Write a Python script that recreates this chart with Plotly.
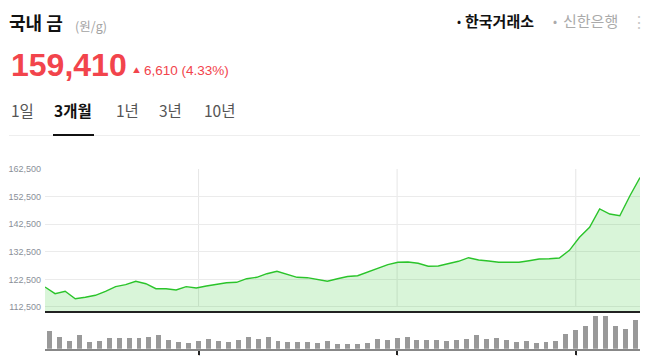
import plotly.graph_objects as go

# ---- data ----
price = [
    119750, 117320, 118190, 115510, 116010, 116740, 118190, 119860, 120580, 121810,
    120940, 119130, 119130, 118660, 119860, 119380, 120110, 120830, 121300, 121450,
    122750, 123260, 124560, 125430, 124350, 123260, 123120, 122390, 121810, 122750,
    123550, 123840, 125180, 126520, 127830, 128700, 128800, 128330, 127250, 127350,
    128190, 129060, 130360, 129530, 129170, 128700, 128700, 128700, 129270, 129890,
    130000, 130250, 133040, 137750, 141380, 148010, 146190, 145580, 152800, 159410,
]
volume = [
    53, 35, 22, 40, 19, 23, 31, 31, 32, 31,
    35, 41, 26, 20, 17, 23, 28, 22, 19, 26,
    35, 28, 34, 23, 20, 19, 19, 16, 23, 14,
    13, 14, 17, 28, 25, 31, 35, 26, 25, 25,
    23, 25, 29, 41, 29, 32, 25, 20, 22, 16,
    19, 23, 44, 56, 68, 98, 97, 67, 59, 85,
]
tick_index = [15, 35, 53]
tick_labels = ["12/02", "01/02", "02/03"]
price_ticks = [112500, 122500, 132500, 142500, 152500, 162500]
tabs = ["1일", "3개월", "1년", "3년", "10년"]
tab_x = [10, 53, 115, 158, 203]
active_tab = "3개월"
title = "국내 금"
unit = "(원/g)"
sources = ["한국거래소", "신한은행"]

W, H = 649, 356
def px(x):
    return x / W
def py(y):
    return 1 - y / H

idx = list(range(len(price)))
last = price[-1]
chg = price[-1] - price[-2]
pct = chg / price[-2] * 100

KR = "Noto Sans CJK KR"
RED = "#f2444c"

fig = go.Figure()
fig.add_trace(go.Scatter(
    x=idx, y=price, mode="lines", fill="tozeroy",
    line=dict(color="#2bc42b", width=1.4),
    fillcolor="rgba(45,200,45,0.18)", hoverinfo="skip",
))
fig.add_trace(go.Bar(
    x=idx, y=volume, xaxis="x2", yaxis="y2",
    marker=dict(color="#999999", line=dict(width=0)), width=0.5, hoverinfo="skip",
))

shapes = []
for t in tick_index:
    shapes.append(dict(type="line", xref="x2", yref="y", x0=t, x1=t,
                       y0=price_ticks[0], y1=price_ticks[-1],
                       line=dict(color="#e6e6e6", width=1), layer="below"))
# header separator and active-tab underline
shapes.append(dict(type="line", xref="paper", yref="paper", x0=px(9), x1=px(640),
                   y0=py(135.5), y1=py(135.5), line=dict(color="#eeeeee", width=1)))
shapes.append(dict(type="line", xref="paper", yref="paper", x0=px(53), x1=px(94),
                   y0=py(135), y1=py(135), line=dict(color="#111111", width=2)))

ann = []
def add(text, x, y, size, color, family=KR, xanchor="left"):
    ann.append(dict(text=text, x=px(x), y=py(y), xref="paper", yref="paper",
                    xanchor=xanchor, yanchor="middle", showarrow=False,
                    font=dict(size=size, color=color, family=family)))

add("<b>" + title + "</b>", 7, 22, 18, "#111111")
add(unit, 73, 25, 12.5, "#a3a3a3")
add("<b>{:,}</b>".format(last), 9, 65, 32, RED, family="Liberation Sans")
add("▲", 131, 70, 7, RED)
add("{:,} ({:.2f}%)".format(chg, pct), 142, 70.5, 13.5, RED, family="Liberation Sans")
for t, x in zip(tabs, tab_x):
    if t == active_tab:
        add("<b>" + t + "</b>", x - 1, 110, 15.5, "#111111")
    else:
        add(t, x - 1, 110, 15.5, "#555555")
add("•", 455, 21, 12, "#111111")
add("<b>" + sources[0] + "</b>", 463, 21, 15, "#111111")
add("•", 551, 21, 12, "#aaaaaa")
add(sources[1], 561, 21, 15, "#aaaaaa")
add("⋮", 639, 21, 16, "#c8c8c8", xanchor="center")

fig.update_layout(
    width=W, height=H, autosize=False,
    margin=dict(l=0, r=0, t=0, b=0, pad=0),
    paper_bgcolor="white", plot_bgcolor="white",
    showlegend=False, bargap=0,
    shapes=shapes, annotations=ann,
    xaxis=dict(domain=[px(45), px(640)], range=[0, len(price) - 1], anchor="y",
               showgrid=False, zeroline=False, showticklabels=False, ticks="",
               showline=True, linecolor="#222222", linewidth=1.5, fixedrange=True,
               automargin=False),
    yaxis=dict(domain=[py(311.3), py(169)], range=[110940, 162500], anchor="x",
               tickvals=price_ticks, tickformat=",d", ticks="",
               gridcolor="#ebebeb", gridwidth=1, zeroline=False, showline=False,
               tickfont=dict(size=9, color="#8a8f99", family="Liberation Sans"),
               ticklabelstandoff=3, fixedrange=True, automargin=False),
    xaxis2=dict(domain=[px(45), px(640)], range=[-0.47, len(price) - 0.53], anchor="y2",
                tickvals=tick_index, ticktext=tick_labels, ticks="outside", ticklen=4,
                tickwidth=1.5, tickcolor="#222222", showgrid=False, zeroline=False,
                showline=True, linecolor="#888888", linewidth=2,
                tickfont=dict(size=9, color="#999999", family="Liberation Sans"),
                ticklabelstandoff=-4,
                fixedrange=True, automargin=False),
    yaxis2=dict(domain=[py(348.7), py(313)], range=[0, max(volume) * 1.09], anchor="x2",
                visible=False, fixedrange=True, automargin=False),
)

fig.write_html(
    "out.html",
    config={"displayModeBar": False, "responsive": False},
    post_script="document.body.style.margin='0';document.body.style.padding='0';"
                "document.body.style.overflow='hidden';",
)
